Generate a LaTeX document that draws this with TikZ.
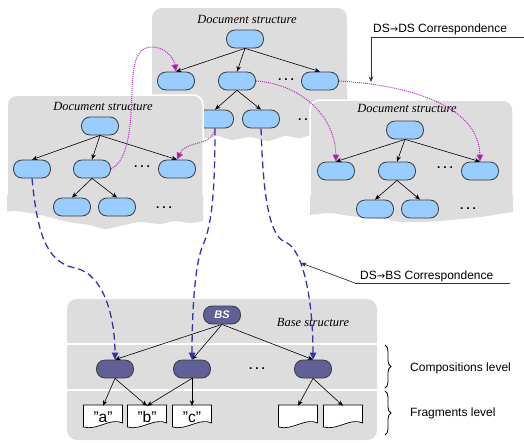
\documentclass[tikz,border=0pt]{standalone}
\usepackage{fontspec}
\setmainfont{Liberation Serif}
\setsansfont{Liberation Sans}
\newfontfamily\arrowfont{DejaVu Sans}
\usetikzlibrary{arrows.meta,decorations.pathreplacing,calc}
\definecolor{panelgray}{RGB}{221,221,221}
\definecolor{nodeblue}{RGB}{153,204,255}
\definecolor{nodeborder}{RGB}{60,60,60}
\definecolor{compfill}{RGB}{96,96,150}
\definecolor{bluec}{RGB}{51,51,170}
\definecolor{magc}{RGB}{185,45,185}
\definecolor{labline}{RGB}{50,50,50}
\newcommand{\fragdoc}[4]{%
  \draw[fill=white, draw=black, line width=0.7pt]
    (#2-19.5,#3-11) -- (#2+19.5,#3-11) -- (#2+19.5,#3+7)
    .. controls (#2+8,#3+1) and (#2-6,#3+15) .. (#2-19.5,#3+11) -- cycle;
  \node[fragnode] (#1) at (#2,#3) {#4};}
\newcommand{\rarr}{{\arrowfont\fontsize{10}{12}\selectfont →}}
\begin{document}
\begin{tikzpicture}[x=1pt,y=-1pt,
  dsnode/.style={draw=nodeborder, fill=nodeblue, line width=0.8pt, rounded corners=8.5pt,
    minimum width=37pt, minimum height=18pt, inner sep=0pt},
  bsnode/.style={dsnode, fill=compfill},
  fragnode/.style={minimum width=39pt, minimum height=22pt, inner sep=0pt,
    font=\sffamily\fontsize{15.5}{17}\selectfont, yshift=-1pt},
  tree/.style={draw=black, line width=0.6pt, -{Stealth[length=5.5pt,width=4.5pt]}},
  dsds/.style={draw=magc, line width=1pt, dash pattern=on 1pt off 1pt,
    -{Triangle[length=7pt,width=6.5pt,fill=magc!80!black]}},
  dsbs/.style={draw=bluec, line width=1.3pt, dash pattern=on 7pt off 4pt,
    -{Triangle[length=7pt,width=6.5pt]}},
  title/.style={font=\fontsize{12.5}{14}\selectfont\itshape, inner sep=0pt},
  lbl/.style={font=\sffamily\fontsize{12}{14}\selectfont, anchor=base west, inner sep=0pt},
  dots/.style={font=\sffamily\bfseries\fontsize{12}{14}\selectfont, inner sep=0pt},
  panel/.style={fill=panelgray},
  callout/.style={draw=labline, line width=0.7pt},
  ]
\useasboundingbox (0,0) rectangle (524,442);

% ---------- top panel ----------
\fill[panel, rounded corners=10pt] (152,8) rectangle (347,130);
\fill[panel] (152,118) -- (347,118) -- plot[smooth] coordinates {(347,133) (335,136) (318,133) (300,138) (285,136) (268,141) (250,137) (232,140) (218,136) (205,138) (190,134) (170,136) (152,133)} -- cycle;
\node[title] (ttop) at (247,19) {Document structure};
\node[dsnode] (t0) at (245,39) {};
\node[dsnode] (t1) at (176,81) {};
\node[dsnode] (t2) at (237,81) {};
\node[dsnode] (t3) at (320,81) {};
\node[dsnode] (t4) at (215,119) {};
\node[dsnode] (t5) at (261,119) {};
\node[dots] (td1) at (286,80) {.\hspace{3pt}.\hspace{3pt}.};
\node[dots] (td2) at (306,120) {.\hspace{3pt}.\hspace{3pt}.};
\draw[tree] (t0.south) -- (t1.north);
\draw[tree] (t0.south) -- (t2.north);
\draw[tree] (t0.south) -- (t3.north);
\draw[tree] (t2.south) -- (t4.north);
\draw[tree] (t2.south) -- (t5.north);

% ---------- left panel ----------
\filldraw[panel, draw=white, line width=1.5pt, rounded corners=10pt] (7,95) rectangle (203,205);
\fill[panel] (7,195) -- (203,195) -- plot[smooth] coordinates {(203,221) (190,223) (175,221) (160,224) (140,222) (120,226) (105,229) (90,225) (75,223) (60,220) (45,216) (30,213) (15,211) (7,212)} -- cycle;
\node[title] (tleft) at (103,106) {Document structure};
\node[dsnode] (l0) at (100,126) {};
\node[dsnode] (l1) at (32,169) {};
\node[dsnode] (l2) at (92,169) {};
\node[dsnode] (l3) at (177,169) {};
\node[dsnode] (l4) at (72,207) {};
\node[dsnode] (l5) at (117,207) {};
\node[dots] (ld1) at (142,167) {.\hspace{3pt}.\hspace{3pt}.};
\node[dots] (ld2) at (164,208) {.\hspace{3pt}.\hspace{3pt}.};
\draw[tree] (l0.south) -- (l1.north);
\draw[tree] (l0.south) -- (l2.north);
\draw[tree] (l0.south) -- (l3.north);
\draw[tree] (l2.south) -- (l4.north);
\draw[tree] (l2.south) -- (l5.north);

% ---------- right panel ----------
\filldraw[panel, draw=white, line width=1.5pt, rounded corners=10pt] (310,100) rectangle (513,205);
\fill[panel] (310,195) -- (513,195) -- plot[smooth] coordinates {(513,212) (500,214) (480,217) (460,219) (440,221) (420,222) (400,222) (385,219) (370,218) (350,216) (330,213) (310,215)} -- cycle;
\node[title] (tright) at (407,108) {Document structure};
\node[dsnode] (r0) at (405,130) {};
\node[dsnode] (r1) at (336,171) {};
\node[dsnode] (r2) at (397,171) {};
\node[dsnode] (r3) at (480,171) {};
\node[dsnode] (r4) at (375,209) {};
\node[dsnode] (r5) at (420,209) {};
\node[dots] (rd1) at (445,168) {.\hspace{3pt}.\hspace{3pt}.};
\node[dots] (rd2) at (468,209) {.\hspace{3pt}.\hspace{3pt}.};
\draw[tree] (r0.south) -- (r1.north);
\draw[tree] (r0.south) -- (r2.north);
\draw[tree] (r0.south) -- (r3.north);
\draw[tree] (r2.south) -- (r4.north);
\draw[tree] (r2.south) -- (r5.north);

% ---------- bottom panel ----------
\fill[panel, rounded corners=10pt] (67,299) rectangle (377,440);
\draw[white, line width=2pt] (67,344) -- (377,344);
\draw[white, line width=2pt] (67,390) -- (377,390);
\node[bsnode, font=\sffamily\bfseries\itshape\fontsize{11}{12}\selectfont, text=white] (bs) at (222,315) {BS};
\node[title] (tbase) at (313,322) {Base structure};
\node[bsnode] (c1) at (115,369) {};
\node[bsnode] (c2) at (192,369) {};
\node[bsnode] (c3) at (313,369) {};
\node[dots] (bd1) at (257,369) {.\hspace{3pt}.\hspace{3pt}.};
\fragdoc{fa}{103}{416}{"a"}
\fragdoc{fb}{147}{416}{"b"}
\fragdoc{fc}{192}{416}{"c"}
\fragdoc{f4}{298}{416}{}
\fragdoc{f5}{343}{416}{}
\draw[tree] (bs.south) -- (c1.north);
\draw[tree] (bs.south) -- (c2.north);
\draw[tree] (bs.south) -- (c3.north);
\draw[tree] (c1.south) -- (fa.north);
\draw[tree] (c1.south) -- (fb.north);
\draw[tree] (c2.south) -- (fb.north);
\draw[tree] (c2.south) -- (fc.north);
\draw[tree] (c3.south) -- (f4.north);
\draw[tree] (c3.south) -- (f5.north);

% ---------- braces and level labels ----------
\draw[decorate, decoration={brace, amplitude=6pt}, line width=0.8pt] (385,345) -- (385,388);
\draw[decorate, decoration={brace, amplitude=6pt}, line width=0.8pt] (385,391) -- (385,435);
\node[lbl] (comp) at (410,371) {Compositions level};
\node[lbl] (frag) at (410,416) {Fragments level};

% ---------- DS->DS correspondences ----------
\draw[dsds] (t2.east) .. controls (300,84) and (335,115) .. (r1.north);
\draw[dsds] (t3.east) .. controls (420,86) and (479,110) .. (r3.north);
\draw[dsds] (l2.east) .. controls (130,160) and (131,120) .. (132,90)
   .. controls (133,55) and (140,47) .. (152,47) .. controls (165,47) and (174,58) .. (t1.north);
\draw[dsds] (t4.south) .. controls (213,147) and (186,140) .. (l3.north);

% ---------- DS->BS correspondences ----------
\draw[dsbs] (l1.south) .. controls (37,230) and (45,262) .. (75,268)
   .. controls (105,274) and (115,320) .. (c1.north);
\draw[dsbs] (t4.south) .. controls (215,190) and (212,225) .. (203,245)
   .. controls (194,265) and (192,320) .. (c2.north);
\draw[dsbs] (t5.south) .. controls (263,190) and (268,235) .. (285,242)
   .. controls (303,248) and (313,300) .. (c3.north);

% ---------- callouts ----------
\node[lbl] (dsdslab) at (373,32) {DS\rarr DS Correspondence};
\coordinate (dsdsA) at (371,37);
\coordinate (dsdsB) at (524,37);
\coordinate (dsdsT) at (371,82);
\draw[callout] (dsdsB) -- (dsdsA);
\draw[callout, -{Stealth[length=5.5pt,width=4.5pt]}] (dsdsA) -- (dsdsT);
\node[lbl] (dsbslab) at (360,279) {DS\rarr BS Correspondence};
\coordinate (dsbsA) at (355,283);
\coordinate (dsbsB) at (510,283);
\coordinate (dsbsT) at (301,263);
\draw[callout] (dsbsB) -- (dsbsA);
\draw[callout, -{Stealth[length=5.5pt,width=4.5pt]}] (dsbsA) -- (dsbsT);
\end{tikzpicture}
\end{document}
